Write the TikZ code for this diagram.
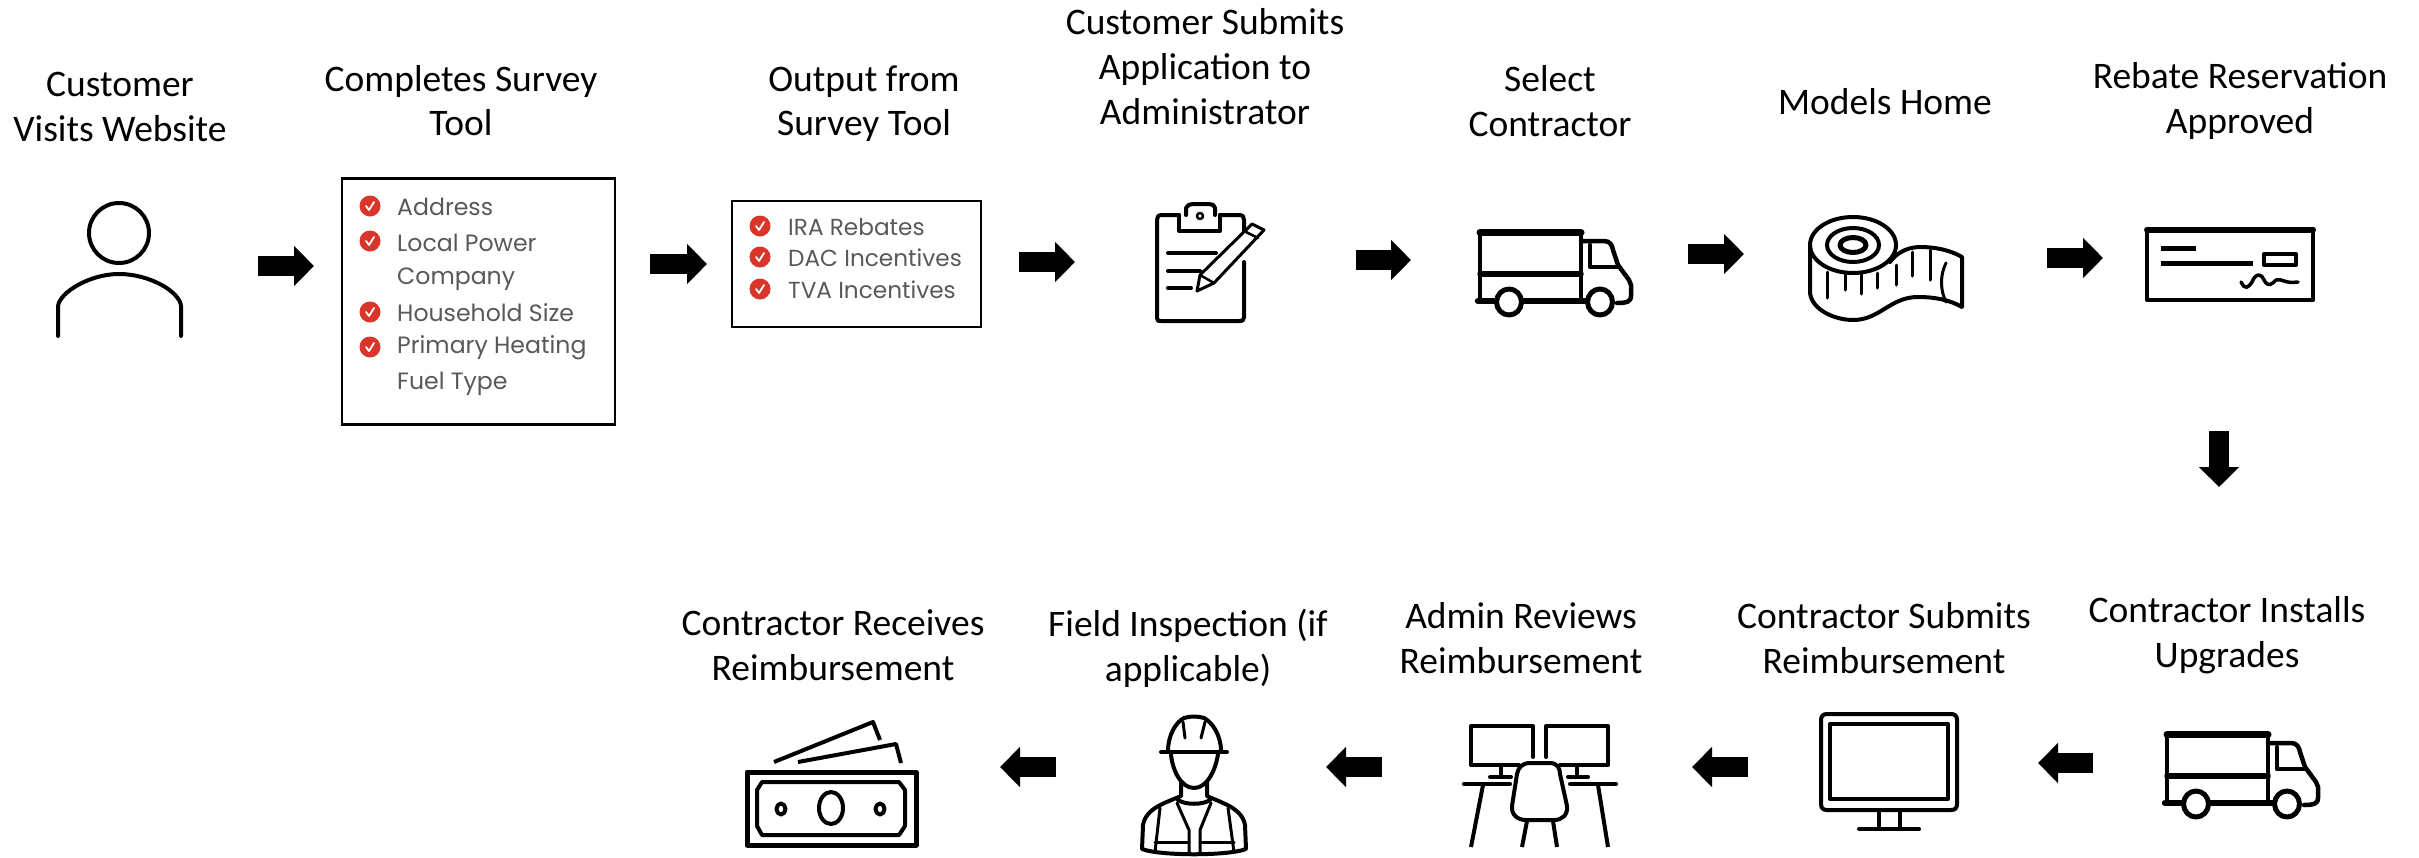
\documentclass[tikz,border=0pt]{standalone}
\usepackage{fontspec}
\setmainfont{Carlito}
\newfontfamily\listfont{Poppins}
\usetikzlibrary{arrows.meta}
\definecolor{bulred}{HTML}{D9352A}
\definecolor{listgrey}{HTML}{595959}
\tikzset{
  lblA/.style={align=center,inner sep=0pt,font=\fontsize{37.5}{45}\selectfont},
  lblB/.style={align=center,inner sep=0pt,font=\fontsize{37.5}{43.5}\selectfont},
  itemtext/.style={anchor=west,inner sep=0pt,text=listgrey,font=\listfont\fontsize{23.6}{27}\selectfont},
  itemtextb/.style={anchor=west,inner sep=0pt,text=listgrey,font=\listfont\fontsize{23.2}{27}\selectfont},
  listbox/.style={draw=black,line width=2.5pt},
  ic/.style={draw=black,line width=4pt,line join=round,line cap=round,fill=none},
  icthick/.style={ic,line width=7pt},
  blockarrow/.style={line width=20pt,-{Triangle[length=#1,width=39pt]}},
  blockarrow/.default={20pt}
}
\newcommand{\bul}[2]{%
  \fill[bulred] (#1,#2) circle[radius=10.5];
  \draw[white,line width=1.8pt,line cap=round,line join=round] (#1-4,#2) -- (#1-1,#2+4) -- (#1+4,#2-4);}
\newcommand{\truck}[2]{%
  \begin{scope}[shift={(#1,#2)}]
    \draw[ic,line width=4.5pt] (1480,232) -- (1480,300);
    \draw[ic,line width=4.5pt] (1581,232) -- (1581,300);
    \draw[icthick] (1480,232.5) -- (1581,232.5);
    \draw[icthick,line width=5.5pt] (1480,274) -- (1581,274);
    \draw[icthick,line width=6.5pt] (1478,301) -- (1494,301);
    \draw[icthick,line width=6.5pt] (1524,301) -- (1586,301);
    \draw[ic,line width=4.5pt] (1581,241) -- (1604,241) .. controls (1610,241) and (1612,245) .. (1613,250)
      -- (1618,265) -- (1629,280) -- (1631,285) -- (1631,296) .. controls (1631,301) and (1628,303) .. (1617,303);
    \draw[ic,line width=4.5pt] (1590,245) -- (1590,267) -- (1619,267);
    \draw[ic,line width=5pt] (1509,302) circle[x radius=12.5,y radius=13];
    \draw[ic,line width=5pt] (1600,302) circle[x radius=12.5,y radius=13];
  \end{scope}}
\begin{document}
\begin{tikzpicture}[x=1pt,y=-1pt]
\useasboundingbox[fill=white] (0,0) rectangle (2419,857);

% labels
\node[lblA] (l1) at (120,110) {Customer\strut\\Visits Website\strut};
\node[lblB] (l2) at (461,105) {Completes Survey\strut\\Tool\strut};
\node[lblB] (l3) at (864,105) {Output from\strut\\Survey Tool\strut};
\node[lblA] (l4) at (1205,70) {Customer Submits\strut\\Application to\strut\\Administrator\strut};
\node[lblA] (l5) at (1550,105) {Select\strut\\Contractor\strut};
\node[lblA] (l6) at (1885,105) {Models Home\strut};
\node[lblA] (l7) at (2240,102) {Rebate Reservation\strut\\Approved\strut};
\node[lblA] (l8) at (2227,636) {Contractor Installs\strut\\Upgrades\strut};
\node[lblA] (l9) at (1884,642) {Contractor Submits\strut\\Reimbursement\strut};
\node[lblA] (l10) at (1521,642) {Admin Reviews\strut\\Reimbursement\strut};
\node[lblA] (l11) at (1188,650) {Field Inspection (if\strut\\applicable)\strut};
\node[lblA] (l12) at (833,649) {Contractor Receives\strut\\Reimbursement\strut};

% person
\draw[ic] (119,233) circle[radius=30];
\draw[ic] (58,336) -- (58,306) .. controls (60,292) and (90,274) .. (119,274)
  .. controls (150,274) and (180,292) .. (181,306) -- (181,336);

% survey box
\draw[listbox] (342,178.5) rectangle (615,424.5);
\bul{370}{206}\bul{370}{241}\bul{370}{312}\bul{370}{347}
\node[itemtext] (s1) at (397,207) {Address};
\node[itemtext] (s2) at (397,243) {Local Power};
\node[itemtext] (s3) at (397,279) {Company};
\node[itemtext] (s4) at (397,313) {Household Size};
\node[itemtext] (s5) at (397,348) {Primary Heating};
\node[itemtext] (s6) at (397,384) {Fuel Type};

% output box
\draw[listbox] (732,201) rectangle (981,327);
\bul{760}{226}\bul{760}{257}\bul{760}{289}
\node[itemtextb] (o1) at (788,227) {IRA Rebates};
\node[itemtextb] (o2) at (788,258) {DAC Incentives};
\node[itemtextb] (o3) at (788,290) {TVA Incentives};

% clipboard
\draw[ic] (1179,215) -- (1162,215) .. controls (1158,215) and (1157,217) .. (1157,220) -- (1157,318) .. controls (1157,321) and (1158,321) .. (1162,321) -- (1239,321) .. controls (1243,321) and (1244,320) .. (1244,317) -- (1244,262);
\draw[ic] (1220,215) -- (1239,215) .. controls (1243,215) and (1244,217) .. (1244,220) -- (1244,232);
\draw[ic] (1179,215) -- (1179,231) -- (1220,231) -- (1220,215);
\draw[ic] (1186,215) -- (1186,208) .. controls (1187,205) and (1190,204) .. (1193,204) -- (1209,204) .. controls (1212,204) and (1215,205) .. (1215,208) -- (1215,215);
\draw[ic,line width=2.5pt] (1200,216) circle[radius=3];
\draw[ic] (1168,253) -- (1216,253);
\draw[ic] (1168,271) -- (1200,271);
\draw[ic] (1168,288) -- (1191,288);
\draw[ic,fill=white,line width=3pt] (1252,224) -- (1264,230) -- (1214,283) -- (1197,291) -- (1200,275) -- cycle;
\draw[ic,line width=2.5pt] (1246,232) -- (1258,238);
\draw[ic,line width=2.5pt] (1200,275) -- (1214,283);

% truck 1
\truck{0}{0}

% tape measure
\draw[ic] (1853,245) circle[x radius=43,y radius=28];
\draw[ic] (1853,245) circle[x radius=26,y radius=17];
\draw[ic,line width=5pt] (1853,245) circle[x radius=13,y radius=7.5];
\draw[ic] (1810,245) -- (1810,293) .. controls (1812,310) and (1835,320) .. (1853,320)
  .. controls (1880,320) and (1890,297) .. (1918,297) .. controls (1935,297) and (1950,300) .. (1962,307) -- (1962,257)
  .. controls (1950,250) and (1935,247) .. (1920,247) .. controls (1905,247) and (1895,255) .. (1890,262);
\draw[ic,line width=3pt] (1946,263) .. controls (1940,275) and (1940,290) .. (1946,302);
\foreach \tx/\ta/\tb in {1827/272/298,1845/273/290,1861/273/294,1877/273/288,1896/265/285,1912/252/276,1930/250/280}
  \draw[ic,line width=3pt] (\tx,\ta) -- (\tx,\tb);

% cheque
\draw[ic] (2147,230) rectangle (2313,300);
\draw[icthick,line width=6pt] (2147,229.5) -- (2313,229.5);
\draw[ic,line width=5pt,line cap=butt] (2161,248) -- (2196,248);
\draw[ic,line width=5pt,line cap=butt] (2161,263) -- (2253,263);
\draw[ic] (2264,254) rectangle (2296,265);
\draw[ic,line width=3.5pt] (2241,282) .. controls (2245,290) and (2248,288) .. (2252,282)
  .. controls (2256,272) and (2262,274) .. (2264,280) .. controls (2268,288) and (2272,284) .. (2276,280)
  .. controls (2282,278) and (2284,284) .. (2298,282);

% truck 2
\truck{687}{502}

% monitor
\draw[ic] (1827,714) -- (1951,714) .. controls (1955,714) and (1957,716) .. (1957,720) -- (1957,804) .. controls (1957,808) and (1955,810) .. (1951,810) -- (1827,810) .. controls (1823,810) and (1821,808) .. (1821,804) -- (1821,720) .. controls (1821,716) and (1823,714) .. (1827,714) -- cycle;
\draw[ic] (1830,724) rectangle (1948,799);
\draw[ic] (1879,810) -- (1879,829);
\draw[ic] (1900,810) -- (1900,829);
\draw[ic] (1859,829) -- (1919,829);

% desk
\draw[ic] (1533,757) -- (1533,726) -- (1471,726) -- (1471,765) -- (1519,765);
\draw[ic] (1546,757) -- (1546,726) -- (1608,726) -- (1608,765) -- (1560,765);
\draw[ic] (1501,765) -- (1501,777);
\draw[ic] (1490,777) -- (1511,777);
\draw[ic] (1577,765) -- (1577,777);
\draw[ic] (1568,777) -- (1588,777);
\draw[ic] (1464,784) -- (1510,784);
\draw[ic] (1570,784) -- (1616,784);
\draw[ic,line cap=butt] (1483,785) -- (1471,847);
\draw[ic,line cap=butt] (1598,785) -- (1608,847);
\draw[ic] (1530,763) -- (1550,763) .. controls (1557,763) and (1560,768) .. (1560,774) -- (1567,806) .. controls (1568,815) and (1562,820) .. (1554,820)
  -- (1526,820) .. controls (1518,820) and (1511,815) .. (1512,806) -- (1517,774) .. controls (1518,768) and (1522,763) .. (1530,763) -- cycle;
\draw[ic,line cap=butt] (1527,821) -- (1522,847);
\draw[ic,line cap=butt] (1553,821) -- (1557,847);

% worker
\draw[ic] (1161,752) -- (1227,752);
\draw[ic] (1168,751) .. controls (1168,735) and (1176,722) .. (1184,718) .. controls (1190,716) and (1198,716) .. (1204,718) .. controls (1212,722) and (1221,735) .. (1221,751);
\draw[ic,line width=3pt] (1185,738) -- (1183,722);
\draw[ic,line width=3pt] (1201,738) -- (1205,722);
\draw[ic] (1171,754) .. controls (1172,768) and (1180,788) .. (1194,788) .. controls (1208,788) and (1216,768) .. (1218,754);
\draw[ic] (1181,783) -- (1181,796) .. controls (1165,803) and (1146,808) .. (1143,825) -- (1142,849) .. controls (1160,856) and (1228,856) .. (1246,849) -- (1245,825) .. controls (1242,808) and (1222,803) .. (1207,796) -- (1207,783);
\draw[ic] (1178,800) .. controls (1185,805) and (1203,805) .. (1210,800);
\draw[ic,line width=3pt] (1160,808) -- (1155,852);
\draw[ic,line width=3pt] (1228,808) -- (1234,852);
\draw[ic,line width=3pt] (1177,803) -- (1189,830) -- (1189,854);
\draw[ic,line width=3pt] (1211,803) -- (1200,830) -- (1200,854);
\draw[ic,line width=3pt] (1155,842) -- (1189,842);
\draw[ic,line width=3pt] (1200,842) -- (1234,842);

% money
\draw[ic,line width=5pt,line cap=butt] (747,772) rectangle (916,845);
\draw[ic] (762,782) -- (899,782) -- (905,790) -- (905,826) -- (899,835) -- (762,835) -- (757,826) -- (757,790) -- cycle;
\draw[ic] (831,808) circle[x radius=12,y radius=16];
\draw[ic] (781,809) circle[x radius=4.5,y radius=5.5];
\draw[ic] (880,809) circle[x radius=4.5,y radius=5.5];
\draw[ic,line cap=butt] (774,762) -- (873,722) -- (880,740);
\draw[ic,line cap=butt] (798,762) -- (896,744) -- (901,763);

% arrows
\coordinate (a1s) at (258,266); \coordinate (a1e) at (314,266);
\coordinate (a2s) at (650,264); \coordinate (a2e) at (707,264);
\coordinate (a3s) at (1019,262); \coordinate (a3e) at (1075,262);
\coordinate (a4s) at (1356,260); \coordinate (a4e) at (1411,260);
\coordinate (a5s) at (1688,254); \coordinate (a5e) at (1744,254);
\coordinate (a6s) at (2047,258); \coordinate (a6e) at (2103,258);
\coordinate (a7s) at (2219,431); \coordinate (a7e) at (2219,487);
\coordinate (a8s) at (2093,763); \coordinate (a8e) at (2038,763);
\coordinate (a9s) at (1748,767); \coordinate (a9e) at (1692,767);
\coordinate (a10s) at (1382,767); \coordinate (a10e) at (1326,767);
\coordinate (a11s) at (1056,767); \coordinate (a11e) at (1000,767);
\foreach \n in {1,...,11}
  \draw[blockarrow] (a\n s) -- (a\n e);
\end{tikzpicture}
\end{document}
